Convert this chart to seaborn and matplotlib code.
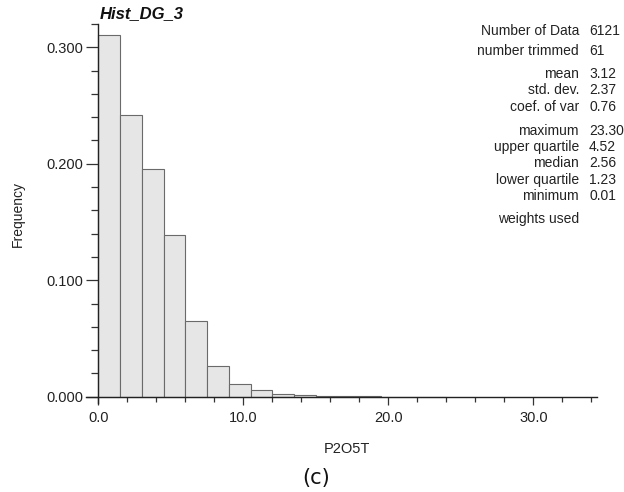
import numpy as np
import pandas as pd
import matplotlib
matplotlib.use("Agg")
import matplotlib.pyplot as plt
import seaborn as sns
from matplotlib.ticker import MultipleLocator, FixedLocator

# ---- data ----
bin_edges = [0.0, 1.5, 3.0, 4.5, 6.0, 7.5, 9.0, 10.5, 12.0, 13.5, 15.0,
             16.5, 18.0, 19.5, 21.0, 22.5, 24.0]
frequencies = [0.3107, 0.2415, 0.1954, 0.1385, 0.0652, 0.0261, 0.0106, 0.0060,
               0.0026, 0.0012, 0.0005, 0.0003, 0.0002, 0.0001, 0.0001, 0.0001]
stat_labels = ["Number of Data", "number trimmed", "mean", "std. dev.", "coef. of var",
               "maximum", "upper quartile", "median", "lower quartile", "minimum",
               "weights used"]
stat_values = ["6121", "61", "3.12", "2.37", "0.76", "23.30", "4.52", "2.56",
               "1.23", "0.01", ""]
x_major_ticks = [0.0, 10.0, 20.0, 30.0]
x_tick_labels = ["0.0", "10.0", "20.0", "30.0"]
y_major_ticks = [0.0, 0.1, 0.2, 0.3]
y_tick_labels = ["0.000", "0.100", "0.200", "0.300"]

sns.set_style("ticks")
plt.rcParams["font.family"] = ["Liberation Sans", "DejaVu Sans"]

W, H = 624, 492
fig = plt.figure(figsize=(W / 100, H / 100), dpi=100)
# axes box in pixels: left 86, right 597, top 24, bottom 403
ax = fig.add_axes([86 / W, 1 - 403 / H, (597 - 86) / W, (403 - 24) / H])

centers = [(a + b) / 2 for a, b in zip(bin_edges[:-1], bin_edges[1:])]
df = pd.DataFrame({"P2O5T": centers, "freq": frequencies})
sns.histplot(data=df, x="P2O5T", weights="freq", bins=bin_edges, stat="count",
             color="#e6e6e6", edgecolor="#6a6a6a", linewidth=0.8, alpha=1.0, ax=ax)

ax.set_xlim(-0.85, 34.39)
ax.set_ylim(-0.0054, 0.32)

for s in ["top", "right"]:
    ax.spines[s].set_visible(False)
ax.spines["left"].set_position(("data", 0))
ax.spines["bottom"].set_position(("data", 0))
for s in ["left", "bottom"]:
    ax.spines[s].set_color("#222222")
    ax.spines[s].set_linewidth(1.0)

ax.xaxis.set_major_locator(FixedLocator(x_major_ticks))
ax.set_xticklabels(x_tick_labels)
ax.xaxis.set_minor_locator(MultipleLocator(2.0))
ax.yaxis.set_major_locator(FixedLocator(y_major_ticks))
ax.set_yticklabels(y_tick_labels)
ax.yaxis.set_minor_locator(MultipleLocator(0.02))

ax.tick_params(axis="y", which="major", direction="out", length=8.6, width=0.9,
               color="#333333", labelsize=10.5, labelcolor="#222222", pad=2.5)
ax.tick_params(axis="y", which="minor", direction="out", length=5.2, width=0.9,
               color="#333333")
ax.tick_params(axis="x", which="major", direction="out", length=6.0, width=0.9,
               color="#333333", labelsize=10.5, labelcolor="#222222", pad=4)
ax.tick_params(axis="x", which="minor", direction="out", length=3.3, width=0.9,
               color="#333333")

ax.set_xlabel("")
ax.set_ylabel("")

def fy(py):
    return 1 - py / H

def fx(px):
    return px / W

fig.text(fx(100), fy(14), "Hist_DG_3", fontsize=12, fontweight="bold",
         fontstyle="italic", ha="left", va="center", color="#111111")
fig.text(fx(18), fy(214), "Frequency", fontsize=10, rotation=90,
         ha="center", va="center", color="#222222")
fig.text(fx(347), fy(449), "P2O5T", fontsize=10.5, ha="center", va="center",
         color="#222222")
fig.text(fx(316), fy(478), "(c)", fontsize=15, ha="center", va="center",
         color="#111111", family=["DejaVu Sans"])

row_y = [31, 51, 74, 90, 107, 131, 147, 163, 180, 196, 219]
for lab, val, py in zip(stat_labels, stat_values, row_y):
    fig.text(fx(579), fy(py), lab, fontsize=10, ha="right", va="center",
             color="#222222")
    if val:
        fig.text(fx(589), fy(py), val, fontsize=10, ha="left", va="center",
                 color="#222222")

fig.savefig("out.png", dpi=100, facecolor="white")
